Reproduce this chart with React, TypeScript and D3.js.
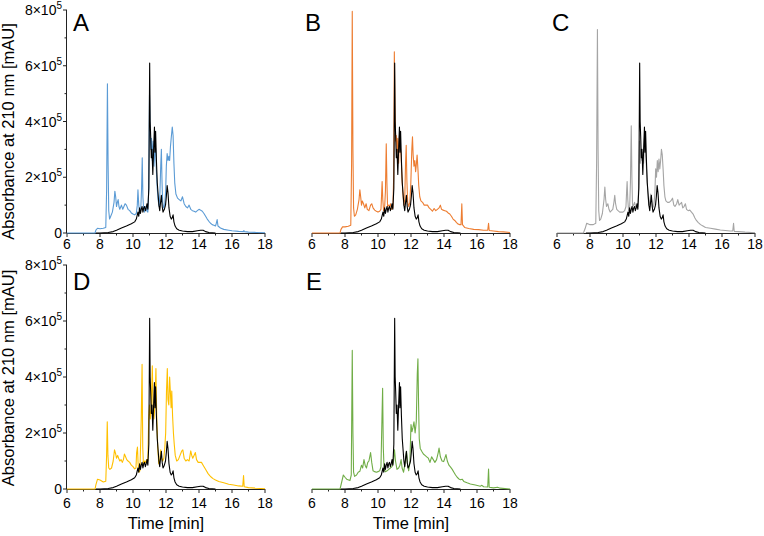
import React from 'react';
import * as d3 from 'd3';

type Pt = [number, number];

// values in units of 1e5 mAU, time in minutes
const xTickValues = [6, 8, 10, 12, 14, 16, 18];
const xMinorValues = [7, 9, 11, 13, 15, 17];
const yTickValues = [0, 2, 4, 6, 8];
const yMinorValues = [1, 3, 5, 7];
const panelLetters = ['A', 'B', 'C', 'D', 'E'];
const traceColors = ['#5b9bd5', '#ed7d31', '#a5a5a5', '#ffc000', '#70ad47'];

const blackTrace: Pt[] = [
  [7.75, 0], [8.0, 0], [8.5, 0.02], [8.8, 0.05], [9.0, 0.1], [9.3, 0.18], [9.6, 0.25], [9.9, 0.33],
  [10.1, 0.4], [10.2, 0.5], [10.3, 0.75], [10.35, 0.6], [10.4, 0.9], [10.45, 0.7], [10.5, 0.85],
  [10.55, 0.95], [10.6, 0.75], [10.65, 0.9], [10.7, 0.95], [10.75, 0.8], [10.8, 0.9], [10.85, 1.05],
  [10.9, 0.85], [10.96, 1.6], [11.01, 6.1], [11.04, 4.0], [11.07, 3.5], [11.11, 2.7], [11.15, 3.0],
  [11.2, 2.1], [11.25, 3.0], [11.3, 3.8], [11.33, 2.9], [11.37, 3.65], [11.42, 2.6], [11.47, 1.8],
  [11.52, 1.4], [11.57, 1.0], [11.62, 0.8], [11.67, 1.1], [11.72, 1.35], [11.77, 0.95], [11.82, 0.75],
  [11.9, 0.85], [11.97, 1.0], [12.02, 1.3], [12.07, 1.7], [12.12, 1.45], [12.18, 0.9], [12.25, 0.6],
  [12.32, 0.5], [12.38, 0.55], [12.43, 0.65], [12.48, 0.4], [12.55, 0.25], [12.65, 0.15], [12.8, 0.1],
  [13.0, 0.07], [13.3, 0.05], [13.6, 0.05], [13.9, 0.08], [14.1, 0.1], [14.25, 0.1], [14.4, 0.05],
  [14.6, 0.02], [15.0, 0],
];

const traceA: Pt[] = [
  [6, 0], [7.7, 0], [7.75, 0.1], [7.85, 0.17], [8.0, 0.15], [8.2, 0.17], [8.35, 0.2], [8.4, 1.5],
  [8.45, 5.35], [8.49, 2.5], [8.53, 0.8], [8.58, 0.5], [8.65, 0.6], [8.75, 0.75], [8.85, 1.1],
  [8.9, 1.5], [8.95, 1.3], [9.0, 0.95], [9.05, 1.1], [9.1, 1.2], [9.15, 0.95], [9.2, 0.85], [9.3, 1.0],
  [9.38, 0.85], [9.45, 0.95], [9.52, 1.05], [9.6, 1.0], [9.7, 0.85], [9.8, 0.8], [9.9, 0.72],
  [10.0, 0.68], [10.1, 0.65], [10.2, 0.7], [10.26, 1.0], [10.3, 1.55], [10.35, 1.0], [10.4, 0.7],
  [10.47, 0.85], [10.52, 1.6], [10.56, 2.7], [10.6, 1.3], [10.65, 0.8], [10.7, 0.75], [10.77, 0.95],
  [10.83, 0.8], [10.9, 0.75], [10.95, 1.5], [11.0, 4.95], [11.04, 3.6], [11.08, 3.0], [11.12, 3.4],
  [11.17, 2.6], [11.22, 3.3], [11.27, 2.4], [11.32, 2.9], [11.37, 3.05], [11.42, 2.2], [11.47, 1.6],
  [11.52, 1.2], [11.58, 0.95], [11.63, 1.4], [11.68, 2.4], [11.72, 3.0], [11.76, 1.8], [11.8, 1.1],
  [11.86, 0.9], [11.92, 1.0], [11.98, 1.5], [12.02, 2.4], [12.07, 2.85], [12.12, 2.6], [12.17, 2.75],
  [12.22, 2.6], [12.27, 3.1], [12.33, 3.5], [12.38, 3.8], [12.43, 3.5], [12.48, 2.5], [12.53, 1.8],
  [12.6, 1.4], [12.7, 1.25], [12.8, 1.2], [12.9, 1.15], [13.0, 1.3], [13.1, 1.05], [13.2, 0.95],
  [13.3, 0.9], [13.4, 1.0], [13.5, 0.85], [13.6, 0.8], [13.7, 0.78], [13.8, 0.75], [13.9, 0.8],
  [14.0, 0.85], [14.1, 0.82], [14.2, 0.78], [14.3, 0.7], [14.4, 0.6], [14.5, 0.5], [14.6, 0.42],
  [14.7, 0.35], [14.8, 0.3], [14.9, 0.28], [15.0, 0.25], [15.05, 0.35], [15.1, 0.48], [15.15, 0.25],
  [15.3, 0.18], [15.5, 0.13], [15.8, 0.1], [16.0, 0.08], [16.4, 0.06], [16.7, 0.05], [16.72, 0.09],
  [16.75, 0.05], [17.0, 0.03], [17.5, 0.02], [18, 0.01],
];

const traceB: Pt[] = [
  [6, 0], [7.7, 0], [7.75, 0.12], [7.85, 0.22], [8.0, 0.22], [8.2, 0.24], [8.35, 0.28], [8.4, 2.5],
  [8.44, 7.95], [8.48, 3.0], [8.52, 0.9], [8.57, 0.6], [8.65, 0.65], [8.75, 0.85], [8.85, 1.2],
  [8.9, 1.55], [8.95, 1.3], [9.0, 1.0], [9.05, 1.15], [9.12, 1.05], [9.2, 0.9], [9.28, 1.05],
  [9.35, 0.85], [9.45, 0.8], [9.55, 1.0], [9.62, 1.05], [9.7, 0.9], [9.8, 0.82], [9.9, 0.78],
  [10.0, 0.75], [10.1, 0.78], [10.18, 0.85], [10.22, 1.4], [10.25, 1.85], [10.29, 1.2], [10.34, 0.8],
  [10.4, 0.9], [10.45, 1.5], [10.5, 3.2], [10.54, 1.8], [10.58, 0.95], [10.64, 1.0], [10.7, 0.95],
  [10.76, 1.05], [10.82, 0.85], [10.9, 0.9], [10.95, 2.0], [10.99, 6.5], [11.03, 4.5], [11.07, 3.3],
  [11.11, 3.5], [11.15, 2.9], [11.2, 3.4], [11.25, 2.5], [11.3, 3.5], [11.35, 3.1], [11.4, 2.8],
  [11.45, 2.0], [11.5, 1.5], [11.56, 1.0], [11.62, 1.2], [11.67, 2.5], [11.71, 3.15], [11.75, 1.9],
  [11.8, 1.1], [11.86, 0.95], [11.93, 1.1], [11.99, 1.8], [12.05, 3.0], [12.09, 3.45], [12.13, 2.8],
  [12.18, 2.4], [12.23, 2.6], [12.28, 2.2], [12.33, 2.5], [12.37, 2.8], [12.42, 2.3], [12.47, 1.7],
  [12.53, 1.3], [12.6, 1.15], [12.7, 1.1], [12.8, 1.0], [12.9, 1.0], [13.0, 1.0], [13.1, 0.9],
  [13.2, 0.85], [13.3, 0.78], [13.4, 0.88], [13.5, 0.8], [13.6, 0.85], [13.7, 0.9], [13.78, 1.0],
  [13.85, 0.85], [13.95, 0.82], [14.05, 0.8], [14.15, 0.78], [14.25, 0.72], [14.35, 0.68],
  [14.45, 0.6], [14.55, 0.5], [14.65, 0.45], [14.75, 0.38], [14.85, 0.32], [14.95, 0.3], [15.03, 0.3],
  [15.08, 1.05], [15.12, 0.3], [15.25, 0.2], [15.5, 0.16], [15.8, 0.13], [16.1, 0.12], [16.4, 0.1],
  [16.65, 0.1], [16.7, 0.35], [16.74, 0.09], [17.0, 0.07], [17.3, 0.05], [17.6, 0.04], [18, 0.02],
];

const traceC: Pt[] = [
  [6, 0], [7.6, 0], [7.7, 0.15], [7.8, 0.35], [8.0, 0.3], [8.2, 0.3], [8.35, 0.35], [8.4, 2.5],
  [8.45, 7.3], [8.49, 3.0], [8.53, 0.8], [8.58, 0.45], [8.65, 0.5], [8.75, 0.7], [8.85, 1.2],
  [8.9, 1.65], [8.95, 1.2], [9.0, 0.95], [9.08, 1.05], [9.15, 0.85], [9.22, 0.75], [9.3, 0.8],
  [9.38, 0.85], [9.45, 1.1], [9.5, 1.35], [9.55, 1.05], [9.62, 0.85], [9.7, 0.8], [9.8, 0.75],
  [9.9, 0.75], [10.0, 0.75], [10.1, 0.8], [10.18, 0.95], [10.22, 1.5], [10.25, 1.85], [10.29, 1.2],
  [10.34, 0.8], [10.4, 0.85], [10.45, 1.8], [10.5, 3.85], [10.54, 2.0], [10.58, 0.95], [10.64, 1.0],
  [10.7, 1.1], [10.76, 0.95], [10.82, 0.9], [10.9, 0.95], [10.96, 1.8], [11.0, 3.3], [11.05, 2.5],
  [11.1, 3.0], [11.15, 2.6], [11.2, 2.9], [11.25, 2.5], [11.3, 3.4], [11.35, 3.0], [11.4, 2.6],
  [11.45, 2.0], [11.5, 1.5], [11.56, 1.0], [11.62, 1.1], [11.68, 1.4], [11.73, 1.2], [11.8, 0.9],
  [11.87, 1.0], [11.93, 1.4], [11.98, 2.3], [12.03, 2.0], [12.08, 2.6], [12.13, 2.2], [12.18, 2.65],
  [12.23, 2.3], [12.28, 2.6], [12.33, 3.0], [12.38, 2.8], [12.43, 2.3], [12.48, 1.7], [12.54, 1.3],
  [12.6, 1.15], [12.7, 1.1], [12.8, 1.1], [12.9, 1.15], [13.0, 1.25], [13.08, 1.0], [13.15, 0.95],
  [13.25, 1.05], [13.32, 1.2], [13.4, 1.0], [13.48, 1.05], [13.55, 1.1], [13.62, 0.9], [13.7, 0.95],
  [13.78, 1.05], [13.85, 0.85], [13.95, 0.8], [14.05, 0.82], [14.15, 0.75], [14.25, 0.68],
  [14.35, 0.55], [14.45, 0.45], [14.55, 0.38], [14.7, 0.3], [14.85, 0.25], [15.0, 0.2], [15.3, 0.17],
  [15.6, 0.14], [15.9, 0.11], [16.2, 0.09], [16.5, 0.07], [16.65, 0.07], [16.7, 0.35], [16.74, 0.06],
  [17.0, 0.05], [17.4, 0.03], [18, 0.01],
];

const traceD: Pt[] = [
  [6, 0], [7.7, 0], [7.75, 0.15], [7.85, 0.35], [8.0, 0.32], [8.2, 0.25], [8.35, 0.28], [8.4, 1.2],
  [8.44, 2.4], [8.48, 1.2], [8.53, 0.75], [8.6, 0.7], [8.7, 0.75], [8.8, 1.0], [8.88, 1.4],
  [8.95, 1.25], [9.0, 1.1], [9.07, 1.2], [9.13, 1.1], [9.2, 1.0], [9.28, 1.05], [9.35, 0.95],
  [9.42, 1.05], [9.48, 1.25], [9.55, 1.15], [9.62, 1.05], [9.7, 1.0], [9.8, 0.95], [9.9, 0.85],
  [10.0, 0.8], [10.1, 0.72], [10.18, 0.75], [10.22, 1.3], [10.27, 1.5], [10.31, 0.9], [10.36, 0.6],
  [10.42, 0.65], [10.5, 2.5], [10.55, 4.45], [10.59, 1.5], [10.63, 0.9], [10.7, 1.0], [10.76, 0.95],
  [10.82, 1.05], [10.9, 1.0], [10.95, 2.5], [11.0, 3.0], [11.05, 2.5], [11.1, 2.8], [11.17, 4.4],
  [11.22, 2.8], [11.27, 2.5], [11.33, 3.0], [11.39, 4.3], [11.44, 2.5], [11.5, 1.5], [11.56, 0.9],
  [11.62, 1.0], [11.68, 1.4], [11.73, 1.1], [11.8, 1.0], [11.87, 1.1], [11.93, 1.5], [11.98, 2.0],
  [12.03, 3.5], [12.08, 4.3], [12.12, 3.2], [12.17, 3.0], [12.22, 4.0], [12.27, 3.4], [12.31, 2.9],
  [12.35, 3.5], [12.4, 2.6], [12.45, 2.0], [12.5, 1.6], [12.56, 1.2], [12.65, 1.0], [12.75, 1.05],
  [12.85, 1.2], [12.95, 1.35], [13.02, 1.4], [13.1, 1.1], [13.2, 1.0], [13.3, 1.05], [13.4, 1.0],
  [13.5, 1.36], [13.56, 1.2], [13.62, 1.1], [13.7, 1.2], [13.78, 1.3], [13.85, 1.05], [13.95, 0.95],
  [14.05, 0.95], [14.15, 0.95], [14.25, 0.85], [14.35, 0.75], [14.45, 0.65], [14.55, 0.55],
  [14.65, 0.48], [14.75, 0.42], [14.85, 0.37], [15.0, 0.32], [15.2, 0.27], [15.5, 0.22], [15.8, 0.17],
  [16.1, 0.14], [16.4, 0.11], [16.65, 0.1], [16.7, 0.48], [16.74, 0.08], [17.0, 0.05], [17.4, 0.03],
  [18, 0.01],
];

const traceE: Pt[] = [
  [6, 0], [7.7, 0], [7.8, 0.25], [7.9, 0.5], [8.0, 0.42], [8.1, 0.35], [8.3, 0.3], [8.38, 0.5],
  [8.44, 4.95], [8.48, 2.0], [8.52, 0.6], [8.58, 0.45], [8.7, 0.5], [8.8, 0.6], [8.9, 0.63],
  [9.0, 0.85], [9.07, 0.75], [9.15, 1.05], [9.22, 0.85], [9.3, 0.75], [9.38, 0.95], [9.45, 1.0],
  [9.55, 1.3], [9.62, 0.95], [9.7, 0.65], [9.8, 0.62], [9.9, 0.6], [10.0, 0.62], [10.1, 0.65],
  [10.18, 0.8], [10.24, 2.5], [10.28, 3.6], [10.32, 1.5], [10.37, 0.7], [10.45, 0.62], [10.55, 0.65],
  [10.65, 0.7], [10.75, 0.75], [10.85, 0.8], [10.93, 0.95], [11.0, 1.4], [11.06, 1.0], [11.15, 0.7],
  [11.25, 0.75], [11.33, 0.85], [11.4, 1.05], [11.46, 0.75], [11.55, 0.6], [11.65, 0.95],
  [11.73, 1.35], [11.79, 0.9], [11.86, 0.65], [11.93, 0.95], [12.0, 2.3], [12.06, 2.05], [12.12, 2.2],
  [12.18, 2.4], [12.25, 2.0], [12.32, 2.4], [12.38, 4.1], [12.42, 4.65], [12.46, 3.0], [12.5, 1.8],
  [12.56, 1.45], [12.65, 1.35], [12.75, 1.25], [12.85, 1.2], [12.95, 1.15], [13.05, 1.1],
  [13.15, 0.95], [13.25, 1.15], [13.35, 1.05], [13.45, 0.95], [13.55, 1.05], [13.65, 1.3],
  [13.7, 1.46], [13.78, 1.15], [13.88, 1.0], [13.98, 0.98], [14.05, 1.1], [14.12, 1.23], [14.2, 1.0],
  [14.3, 0.85], [14.4, 0.78], [14.5, 0.7], [14.6, 0.6], [14.7, 0.5], [14.8, 0.42], [14.9, 0.36],
  [15.0, 0.33], [15.1, 0.35], [15.2, 0.27], [15.4, 0.22], [15.6, 0.18], [15.9, 0.14], [16.2, 0.1],
  [16.3, 0.13], [16.4, 0.08], [16.65, 0.07], [16.7, 0.71], [16.74, 0.06], [17.0, 0.04],
  [17.25, 0.06], [17.4, 0.03], [18, 0.0],
];

const coloredTraces = [traceA, traceB, traceC, traceD, traceE];

// layout
const PANEL_W = 198;
const panelLayout = [
  { x0: 67, top: 10, bottom: 233, letterX: 73, letterY: 31, yAxis: true, tickDy: 16 },
  { x0: 312, top: 10, bottom: 233, letterX: 305, letterY: 31, yAxis: false, tickDy: 16 },
  { x0: 557, top: 10, bottom: 233, letterX: 552, letterY: 30.5, yAxis: false, tickDy: 16 },
  { x0: 67, top: 265, bottom: 489, letterX: 73, letterY: 290, yAxis: true, tickDy: 19 },
  { x0: 312, top: 265, bottom: 489, letterX: 306, letterY: 290, yAxis: false, tickDy: 19 },
];

const FONT = "'Liberation Sans', Arial, sans-serif";

function Panel({ idx }: { idx: number }) {
  const L = panelLayout[idx];
  const x = d3.scaleLinear().domain([6, 18]).range([L.x0, L.x0 + PANEL_W]);
  const y = d3.scaleLinear().domain([0, 8]).range([L.bottom, L.top]);
  const line = d3
    .line<Pt>()
    .x((d) => x(d[0]))
    .y((d) => y(d[1]));
  return (
    <g>
      {/* x axis */}
      <line x1={x(6)} x2={x(18)} y1={L.bottom + 0.5} y2={L.bottom + 0.5} stroke="#222" strokeWidth={1} />
      {xTickValues.map((t) => (
        <g key={'xt' + t}>
          <line x1={x(t)} x2={x(t)} y1={L.bottom} y2={L.bottom + 4} stroke="#222" strokeWidth={1} />
          <text x={x(t)} y={L.bottom + L.tickDy} textAnchor="middle" fontSize={14} fontFamily={FONT} fill="#000">
            {t}
          </text>
        </g>
      ))}
      {xMinorValues.map((t) => (
        <line key={'xm' + t} x1={x(t)} x2={x(t)} y1={L.bottom} y2={L.bottom + 2.5} stroke="#222" strokeWidth={1} />
      ))}
      {L.yAxis && (
        <g>
          <line x1={L.x0 - 0.5} x2={L.x0 - 0.5} y1={y(8)} y2={y(0)} stroke="#222" strokeWidth={1} />
          {yTickValues.map((v) => (
            <g key={'yt' + v}>
              <line x1={L.x0 - 4} x2={L.x0} y1={y(v)} y2={y(v)} stroke="#222" strokeWidth={1} />
              <text x={L.x0 - 5} y={y(v) + 5} textAnchor="end" fontSize={14} fontFamily={FONT} fill="#000">
                {v === 0 ? (
                  '0'
                ) : (
                  <>
                    {v + '×10'}
                    <tspan fontSize={10} dy={-6}>5</tspan>
                  </>
                )}
              </text>
            </g>
          ))}
          {yMinorValues.map((v) => (
            <line key={'ym' + v} x1={L.x0 - 2.5} x2={L.x0} y1={y(v)} y2={y(v)} stroke="#222" strokeWidth={1} />
          ))}
        </g>
      )}
      <path d={line(coloredTraces[idx]) || ''} fill="none" stroke={traceColors[idx]} strokeWidth={1.1} strokeLinejoin="round" />
      <path d={line(blackTrace) || ''} fill="none" stroke="#000" strokeWidth={1.1} strokeLinejoin="round" />
      <text x={L.letterX} y={L.letterY} fontSize={24} fontFamily={FONT} fill="#000">
        {panelLetters[idx]}
      </text>
    </g>
  );
}

export default function App() {
  return (
    <svg
      width={764}
      height={536}
      style={{ position: 'absolute', left: 0, top: 0, background: '#fff' }}
    >
      <rect x={0} y={0} width={764} height={536} fill="#fff" />
      {panelLayout.map((_, i) => (
        <Panel key={i} idx={i} />
      ))}
      <text
        transform="translate(13.5,131.5) rotate(-90)"
        textAnchor="middle"
        fontSize={16.5}
        fontFamily={FONT}
        fill="#000"
      >
        Absorbance at 210 nm [mAU]
      </text>
      <text
        transform="translate(13.5,378) rotate(-90)"
        textAnchor="middle"
        fontSize={16.5}
        fontFamily={FONT}
        fill="#000"
      >
        Absorbance at 210 nm [mAU]
      </text>
      <text x={166} y={529} textAnchor="middle" fontSize={16.5} fontFamily={FONT} fill="#000">
        Time [min]
      </text>
      <text x={411} y={529} textAnchor="middle" fontSize={16.5} fontFamily={FONT} fill="#000">
        Time [min]
      </text>
    </svg>
  );
}
